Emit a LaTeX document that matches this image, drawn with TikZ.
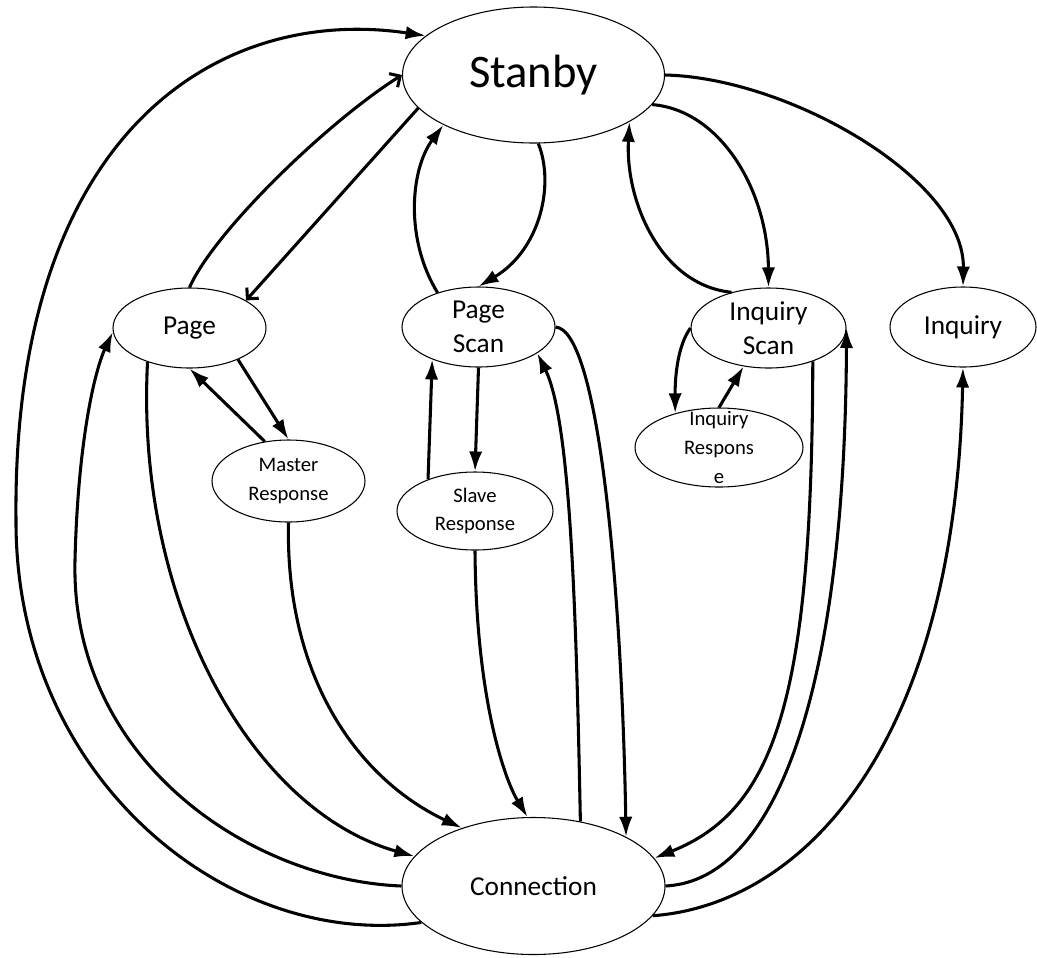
\documentclass[tikz,border=0pt]{standalone}
\usepackage{fontspec}
\setmainfont{Carlito}
\usetikzlibrary{shapes.geometric,arrows.meta}

\begin{document}
\begin{tikzpicture}[x=0.75pt,y=-0.75pt]
\tikzset{
  state/.style={ellipse,draw,line width=0.8pt,inner sep=0pt,fill=white},
  big/.style={font=\fontsize{35}{40}\selectfont},
  mid/.style={font=\fontsize{20.5}{25.5}\selectfont,align=center},
  small/.style={font=\fontsize{15.5}{21.5}\selectfont,align=center},
  edge/.style={line width=2.3pt,-{Latex[length=15pt,width=10pt]}},
  barb/.style={line width=2.3pt,-{Straight Barb[length=6pt,width=12pt]}}
}
\useasboundingbox (0,0) rectangle (1037,957);

% states
\node[state,minimum width=196.5pt,minimum height=102pt] (s) at (533.5,75) {};
\node[state,minimum width=114.75pt,minimum height=60pt] (p) at (189.5,328) {};
\node[state,minimum width=114.75pt,minimum height=60pt] (ps) at (478.5,327) {};
\node[state,minimum width=116.25pt,minimum height=60pt] (is) at (768.5,328) {};
\node[state,minimum width=109.5pt,minimum height=60pt] (i) at (963,327) {};
\node[state,minimum width=114.75pt,minimum height=61.5pt] (mr) at (288.5,481) {};
\node[state,minimum width=117pt,minimum height=58.5pt] (sr) at (475,511) {};
\node[state,minimum width=126pt,minimum height=59.25pt] (ir) at (719,447.5) {};
\node[state,minimum width=197.25pt,minimum height=102.75pt] (c) at (533.5,886) {};

% state names
\node[big] (s-t) at (s) {Stanby};
\node[mid] (p-t) at (p) {Page};
\node[mid] (ps-t) at (ps) {Page\\Scan};
\node[mid] (is-t) at (is) {Inquiry\\Scan};
\node[mid] (i-t) at (i) {Inquiry};
\node[small] (mr-t) at (mr) {Master\\Response};
\node[small] (sr-t) at (sr) {Slave\\Response};
\node[small] (ir-t) at (ir) {Inquiry\\Respons\\e};
\node[mid] (c-t) at (c) {Connection};

% transitions on the left
\draw[edge] (c.198.5) .. controls (230,950) and (15,780) .. (16,520)
            .. controls (12,130) and (220,5) .. (s.160);
\draw[edge] (c.west) .. controls (250,880) and (70,760) .. (75,560)
            .. controls (78,440) and (95,370) .. (p.183);
\draw[edge] (p.219.3) .. controls (135,600) and (250,810) .. (c.166);
\draw[edge] (p.327.4) -- (mr.north);
\draw[edge] (mr.121) -- (p.south);
\draw[edge] (mr.south) .. controls (285,680) and (360,780) .. (c.141.7);
\draw[barb] (p.north) .. controls (215,230) and (330,120) .. (s.west);
\draw[barb] (s.196.9) -- (p.26.8);

% transitions in the middle
\draw[edge] (ps.140) .. controls (405,240) and (410,170) .. (s.209.5);
\draw[edge] (s.274) .. controls (555,185) and (540,250) .. (ps.north);
\draw[edge] (ps.south) -- (sr.north);
\draw[edge] (sr.146.5) -- (ps.215);
\draw[edge] (sr.south) .. controls (476,700) and (505,780) .. (c.95);
\draw[edge] (c.54.8) .. controls (576,600) and (570,420) .. (ps.-24);
\draw[edge] (ps.east) .. controls (600,330) and (622,600) .. (c.28.2);

% transitions on the right
\draw[edge] (is.136) .. controls (660,285) and (625,200) .. (s.334.5);
\draw[edge] (s.346) .. controls (720,110) and (768,190) .. (is.north);
\draw[edge] (s.east) .. controls (790,78) and (965,180) .. (i.north);
\draw[edge] (is.west) .. controls (678,345) and (675,375) .. (ir.142.2);
\draw[edge] (ir.north) -- (is.237.2);
\draw[edge] (is.323.7) .. controls (812,700) and (775,810) .. (c.13.2);
\draw[edge] (c.east) .. controls (780,880) and (845,680) .. (is.east);
\draw[edge] (c.346.6) .. controls (800,905) and (955,750) .. (i.south);
\end{tikzpicture}
\end{document}
